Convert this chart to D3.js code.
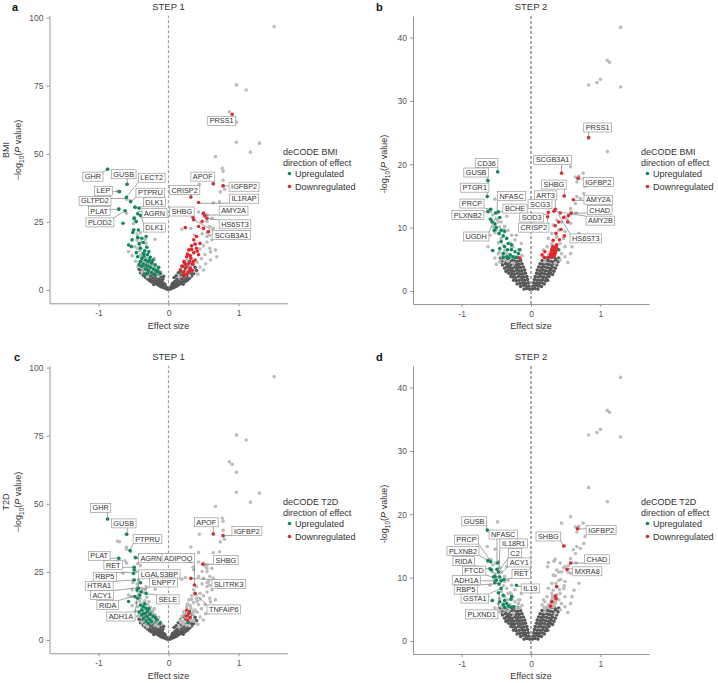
<!DOCTYPE html>
<html>
<head>
<meta charset="utf-8">
<script src="https://cdn.jsdelivr.net/npm/d3@7"></script>
<style>
  body { margin: 0; background: #fff; }
  text { font-family: "Liberation Sans", Arial, sans-serif; }
</style>
</head>
<body>
<svg id="chart" width="718" height="683"></svg>
<script>
// ---- data (effect size, -log10 P) ----

// non significant proteins, step 1 (panels a and c share them)
var step1Dark = [
  [-0.02,0.3],[-0.05,0.6],[-0.08,0.9],[-0.04,1.1],[-0.11,1.2],[-0.07,1.6],[-0.14,1.7],[-0.10,2.0],[-0.17,2.2],[-0.06,2.3],
  [-0.13,2.6],[-0.20,2.7],[-0.09,3.0],[-0.16,3.1],[-0.23,3.3],[-0.12,3.6],[-0.19,3.7],[-0.26,3.9],[-0.08,4.0],[-0.15,4.2],
  [-0.22,4.4],[-0.29,4.5],[-0.11,4.8],[-0.18,4.9],[-0.25,5.1],[-0.32,5.2],[-0.14,5.6],[-0.21,5.7],[-0.28,5.9],[-0.35,6.0],
  [-0.12,6.5],[-0.18,6.6],[-0.25,6.8],[-0.31,6.9],[-0.38,7.0],[-0.16,7.6],[-0.22,7.8],[-0.29,8.0],[-0.35,8.1],[-0.20,8.9],
  [-0.27,9.2],[-0.33,9.4],[-0.40,9.0],[-0.24,10.2],[-0.31,10.5],[-0.38,10.8],[-0.05,1.9],[-0.10,3.4],[-0.21,2.0],[-0.24,2.9],
  [-0.03,0.9],[-0.27,3.4],[-0.30,4.0],[-0.33,4.7],[-0.36,5.4],[-0.40,6.3],[-0.42,7.6],[-0.07,5.0],
  [0.02,0.3],[0.05,0.6],[0.08,0.9],[0.04,1.1],[0.11,1.3],[0.07,1.6],[0.14,1.8],[0.10,2.1],[0.17,2.3],[0.06,2.4],
  [0.13,2.7],[0.20,2.9],[0.09,3.1],[0.16,3.3],[0.23,3.5],[0.12,3.8],[0.19,4.0],[0.26,4.2],[0.15,4.6],[0.22,4.8],
  [0.29,5.0],[0.11,5.2],[0.18,5.5],[0.25,5.7],[0.32,5.9],[0.14,6.3],[0.21,6.5],[0.28,6.8],[0.35,7.0],[0.17,7.4],
  [0.24,7.7],[0.31,8.0],[0.38,8.3],[0.20,8.6],[0.27,9.0],[0.34,9.4],[0.23,10.0],[0.30,10.4],[0.05,1.9],[0.21,2.1],[0.24,3.0],
  [0.03,0.9],[0.27,3.6],[0.30,4.3],[0.33,5.1],[0.36,6.0],[0.40,7.1],[0.08,4.6]
];

// significant proteins without a deCODE direction, step 1
var step1Light = [
  [1.51,96.7],[0.97,75.3],[1.11,73.4],[0.87,65.4],[0.97,61.6],[0.97,54.2],[1.30,53.9],[1.17,50.6],[0.67,49.0],[0.77,44.7],
  [0.78,43.6],[0.78,40.3],[0.74,36.0],[0.80,37.0],[0.44,38.8],[0.64,32.0],[0.73,32.4],[0.43,28.6],[0.55,27.5],[0.62,26.3],
  [0.55,25.1],[0.59,23.3],[0.64,22.6],[0.55,21.0],[0.59,20.1],[0.48,20.6],[0.62,18.4],[0.55,17.6],[0.50,16.2],[0.67,14.7],
  [0.69,12.2],[0.60,11.0],[0.55,19.6],[0.59,15.3],[0.60,14.0],[0.19,22.3],[0.45,15.0],[0.52,13.0],[0.47,11.5],[0.41,10.2],
  [0.53,9.6],[0.45,8.4],[0.36,7.0],[0.50,7.3],[0.42,5.8],[0.30,5.2],[0.15,4.8],[0.20,6.2],
  [-0.19,18.6],[-0.60,33.3],[-0.60,28.2],[-0.45,20.5],[-0.41,14.3],[-0.52,12.6],[-0.47,10.5],[-0.44,8.6],[-0.38,6.6],
  [-0.30,4.8],[-0.15,5.0],[-0.10,5.8],[-0.20,11.5],[-0.33,18.5],[-0.73,36.3]
];

var aUp = [
  [-0.87,44.3],[-0.59,38.8],[-0.70,36.1],[-0.60,34.0],[-0.54,32.4],[-0.48,30.4],[-0.71,29.6],[-0.62,29.1],[-0.42,30.0],[-0.44,28.0],
  [-0.40,27.3],[-0.49,26.3],[-0.65,24.5],[-0.46,25.1],[-0.50,22.0],[-0.51,21.1],[-0.43,22.0],[-0.57,16.5],[-0.53,15.9],[-0.44,19.3],
  [-0.38,19.0],[-0.36,17.4],[-0.40,15.3],[-0.31,15.7],[-0.46,13.7],[-0.44,12.2],[-0.36,13.5],[-0.30,12.9],[-0.38,11.6],[-0.26,12.0],
  [-0.33,11.0],[-0.40,10.4],[-0.29,10.4],[-0.36,9.5],[-0.24,9.8],[-0.31,8.8],[-0.38,8.6],[-0.19,9.2],[-0.26,8.3],[-0.33,7.6],
  [-0.21,7.6],[-0.29,7.1],[-0.14,8.3],[-0.17,7.0],[-0.24,6.4],[-0.30,6.1],[-0.12,6.1],[-0.19,5.5],[-0.32,19.6],[-0.52,18.4],
  [-0.34,14.4],[-0.42,17.0],[-0.28,14.0],[-0.22,11.0],[-0.35,12.5],[-0.27,11.0],[-0.42,9.3],[-0.34,5.5],[-0.15,6.8],[0.17,6.7]
];
var aDown = [
  [0.91,64.5],[0.64,39.0],[0.78,38.2],[0.32,34.1],[0.43,32.1],[0.50,28.2],[0.52,27.2],[0.55,26.3],[0.35,26.7],[0.48,25.1],
  [0.43,23.3],[0.50,22.6],[0.57,21.4],[0.24,22.9],[0.40,19.6],[0.36,18.4],[0.45,17.1],[0.33,16.2],[0.40,15.3],[0.29,14.7],
  [0.36,13.7],[0.43,12.9],[0.26,12.2],[0.32,11.6],[0.38,11.0],[0.22,10.4],[0.29,9.8],[0.35,9.5],[0.19,8.8],[0.25,8.3],
  [0.31,8.0],[0.17,7.1],[0.22,6.7],[0.28,6.4],[0.34,7.2],[0.27,13.2],[0.31,12.6],[0.35,10.4],[0.24,9.4],[0.30,7.0],
  [0.41,14.2],[0.38,16.8],[0.33,14.9],[0.21,5.8],[0.26,5.5],[0.36,25.8]
];
var cUp = [
  [-0.87,44.4],[-0.60,38.8],[-0.55,32.8],[-0.71,30.0],[-0.47,30.2],[-0.49,26.7],[-0.49,25.7],[-0.50,24.4],[-0.49,22.0],[-0.40,21.0],
  [-0.43,19.0],[-0.45,18.3],[-0.39,17.7],[-0.32,17.1],[-0.57,14.1],[-0.48,15.9],[-0.44,15.3],[-0.40,12.8],[-0.36,12.2],[-0.32,11.6],
  [-0.38,11.0],[-0.30,10.4],[-0.35,9.8],[-0.26,9.5],[-0.38,9.2],[-0.31,8.6],[-0.22,8.8],[-0.36,7.9],[-0.27,7.6],[-0.19,8.3],
  [-0.32,7.0],[-0.24,6.7],[-0.17,7.3],[-0.12,6.1],[-0.29,6.1],[-0.41,16.4],[-0.34,13.3],[-0.28,11.5],[-0.42,10.3],[0.28,6.4]
];
var cDown = [
  [0.64,38.9],[0.78,38.3],[0.49,27.8],[0.37,20.2],[0.32,22.6],[0.38,17.1],[0.26,11.0],[0.29,9.8],[0.25,8.8],[0.31,8.3],[0.27,7.3]
];

// step 2 (panels b and d)
var step2Dark = [
  [-0.02,0.3],[-0.06,0.4],[-0.10,0.3],[-0.03,0.8],[-0.07,0.8],[-0.11,0.9],[-0.15,0.7],
  [-0.04,1.3],[-0.08,1.2],[-0.12,1.3],[-0.16,1.2],[-0.20,1.1],
  [-0.05,1.8],[-0.09,1.7],[-0.13,1.8],[-0.17,1.7],[-0.21,1.6],[-0.25,1.7],
  [-0.06,2.3],[-0.10,2.2],[-0.14,2.2],[-0.18,2.3],[-0.22,2.1],[-0.26,2.2],[-0.29,2.3],
  [-0.08,2.8],[-0.12,2.7],[-0.16,2.7],[-0.20,2.8],[-0.24,2.6],[-0.28,2.7],[-0.32,2.8],
  [-0.09,3.3],[-0.13,3.2],[-0.17,3.2],[-0.21,3.3],[-0.25,3.1],[-0.29,3.2],[-0.33,3.3],[-0.36,3.1],
  [-0.11,3.8],[-0.15,3.7],[-0.19,3.7],[-0.23,3.8],[-0.27,3.6],[-0.31,3.7],[-0.35,3.8],[-0.38,3.6],
  [-0.13,4.3],[-0.17,4.2],[-0.21,4.2],[-0.25,4.3],[-0.29,4.1],[-0.33,4.2],[-0.37,4.3],[-0.41,4.1],
  [-0.15,4.8],[-0.19,4.7],[-0.23,4.7],[-0.27,4.8],[-0.31,4.6],[-0.35,4.7],[-0.39,4.8],[-0.43,4.6],
  [-0.19,5.3],[-0.24,5.2],[-0.29,5.3],[-0.34,5.1],[-0.39,5.2],[-0.44,5.2],
  [0.02,0.3],[0.06,0.4],[0.10,0.3],[0.03,0.8],[0.07,0.9],[0.11,0.8],[0.15,0.7],
  [0.04,1.3],[0.08,1.2],[0.12,1.2],[0.16,1.3],[0.19,1.1],
  [0.05,1.8],[0.09,1.7],[0.13,1.7],[0.17,1.8],[0.21,1.6],[0.24,1.7],
  [0.06,2.3],[0.10,2.2],[0.14,2.3],[0.18,2.2],[0.22,2.1],[0.26,2.3],
  [0.08,2.8],[0.12,2.7],[0.16,2.8],[0.20,2.7],[0.24,2.6],[0.28,2.8],[0.31,2.6],
  [0.09,3.3],[0.13,3.2],[0.17,3.3],[0.21,3.2],[0.25,3.1],[0.29,3.3],[0.33,3.1],
  [0.11,3.8],[0.15,3.7],[0.19,3.8],[0.23,3.7],[0.27,3.6],[0.31,3.8],[0.35,3.6],
  [0.13,4.3],[0.17,4.2],[0.21,4.3],[0.25,4.2],[0.29,4.1],[0.33,4.3],[0.37,4.1],
  [0.16,4.8],[0.20,4.7],[0.24,4.8],[0.28,4.7],[0.32,4.6],[0.36,4.8],[0.39,4.6],
  [0.20,5.3],[0.25,5.2],[0.30,5.3],[0.35,5.1],[0.40,5.2]
];
var step2Light = [
  [1.29,41.6],[1.10,36.4],[1.13,36.1],[1.00,33.4],[0.95,32.9],[0.83,32.5],[1.29,32.2],[1.10,22.0],[0.57,19.6],[0.75,18.6],
  [0.64,18.0],[0.69,18.1],[0.66,17.2],[0.78,16.5],[0.76,15.4],[0.66,14.9],[0.71,14.6],[0.64,13.8],[0.65,12.3],[0.57,13.0],
  [0.49,11.7],[0.44,10.9],[0.37,11.2],[0.57,10.7],[0.32,10.4],[0.40,9.6],[0.49,9.4],[0.30,9.1],[0.37,8.5],[0.47,8.3],
  [0.25,8.3],[0.42,7.5],[0.30,7.5],[0.49,7.0],[0.37,6.5],[0.44,5.9],[0.23,7.0],[0.18,6.5],[0.25,5.7],[0.49,5.4],
  [0.42,4.9],[0.57,5.9],[0.59,7.0],[0.69,9.1],[0.62,8.0],[0.53,4.5],[0.35,4.4],[0.20,4.6],
  [-0.52,14.5],[-0.55,12.0],[-0.43,10.9],[-0.38,10.2],[-0.33,9.6],[-0.59,8.8],[-0.28,8.8],[-0.23,8.1],[-0.30,7.6],[-0.26,7.0],
  [-0.18,6.5],[-0.47,5.9],[-0.42,5.4],[-0.38,4.9],[-0.33,4.7],[-0.21,5.4],[-0.52,5.2],[-0.45,4.6],[-0.50,4.2],[-0.13,5.6],
  [-0.25,4.4],[-0.62,7.0],[-0.35,11.8],[-0.14,7.5]
];
var bUp = [
  [-0.48,18.8],[-0.62,17.4],[-0.63,14.9],[-0.58,12.9],[-0.62,12.5],[-0.51,12.3],[-0.47,12.5],[-0.58,11.3],[-0.56,10.9],[-0.52,10.6],
  [-0.50,10.0],[-0.53,9.6],[-0.43,9.6],[-0.38,9.4],[-0.46,9.1],[-0.40,8.7],[-0.35,8.3],[-0.43,7.8],[-0.33,7.5],[-0.28,7.3],
  [-0.38,7.0],[-0.45,6.7],[-0.34,6.5],[-0.28,6.5],[-0.23,6.2],[-0.40,5.9],[-0.30,5.7],[-0.35,5.4],[-0.26,5.4],[-0.55,6.4],
  [-0.18,5.9],[-0.21,5.3],[-0.32,5.2],[-0.40,5.3],[-0.16,6.5],[-0.45,11.6],[0.32,5.5],[0.40,6.5],[0.20,5.3]
];
var bDown = [
  [0.83,24.2],[0.44,18.6],[0.68,17.8],[0.48,15.0],[0.35,12.9],[0.61,14.4],[0.25,12.4],[0.24,11.7],[0.58,12.3],[0.54,11.9],
  [0.42,12.3],[0.47,11.6],[0.40,10.9],[0.53,10.9],[0.35,10.3],[0.43,9.7],[0.36,9.1],[0.48,8.7],[0.41,8.1],[0.32,8.0],
  [0.37,7.3],[0.31,7.0],[0.34,6.9],[0.37,6.8],[0.30,6.6],[0.33,6.5],[0.36,6.4],[0.29,6.2],[0.32,6.1],[0.35,6.0],
  [0.28,5.8],[0.31,5.7],[0.34,5.6],[0.28,5.5],[0.30,5.4],[0.25,5.3],[0.20,6.2],[0.16,5.7],[0.19,5.3],[-0.16,5.2],[0.33,12.6]
];
var dUp = [
  [-0.63,17.5],[-0.62,12.7],[-0.58,12.5],[-0.48,12.3],[-0.59,11.4],[-0.57,11.2],[-0.47,10.9],[-0.52,10.2],[-0.45,10.1],[-0.50,9.6],
  [-0.43,9.5],[-0.39,9.7],[-0.52,9.2],[-0.46,9.0],[-0.21,8.8],[-0.43,8.3],[-0.47,7.6],[-0.40,7.2],[-0.28,7.0],[-0.29,6.6],
  [-0.56,6.4],[-0.38,6.4],[-0.45,6.2],[-0.35,5.9],[-0.40,5.7],[-0.32,5.5],[-0.38,5.3],[-0.28,5.3],[-0.25,5.4],[-0.49,11.3],[-0.54,10.1]
];
var dDown = [
  [0.67,17.7],[0.47,15.0],[0.57,12.3],[0.52,11.3],[0.37,8.6],[0.35,7.1],[0.36,6.7],[0.30,6.2],[0.28,5.5]
];

// labelled proteins: [gene, effect, -log10 P]
var labelsA = [["GHR",-0.87,44.3],["GUSB",-0.59,38.8],["LECT2",-0.59,34.6],["LEP",-0.70,36.1],["GLTPD2",-0.61,33.6],
  ["PTPRU",-0.54,32.4],["DLK1",-0.48,30.4],["PLAT",-0.71,29.6],["AGRN",-0.44,28.8],["PLOD2",-0.62,29.1],["DLK1",-0.40,27.5],
  ["PRSS1",0.91,64.5],["APOF",0.64,39.0],["IGFBP2",0.78,38.2],["CRISP2",0.32,34.1],["IL1RAP",0.43,31.8],["AMY2A",0.50,27.5],
  ["SHBG",0.35,26.7],["HS6ST3",0.52,26.3],["SCGB3A1",0.36,25.8]];
var labelsB = [["PRSS1",0.83,24.2],["SCGB3A1",0.44,18.6],["CD36",-0.48,18.9],["GUSB",-0.62,17.4],["IGFBP2",0.67,17.7],
  ["SHBG",0.48,15.0],["PTGR1",-0.63,14.9],["NFASC",-0.49,12.3],["ART3",0.35,12.9],["AMY2A",0.61,14.3],["SCG3",0.26,12.5],
  ["PRCP",-0.58,12.9],["CHAD",0.57,12.3],["BCHE",-0.47,12.5],["PLXNB2",-0.62,12.5],["SOD3",0.24,12.1],["AMY2B",0.33,12.6],
  ["CRISP2",0.24,11.7],["UGDH",-0.50,11.8],["HS6ST3",0.40,12.0]];
var labelsC = [["GHR",-0.87,44.4],["GUSB",-0.59,38.9],["PTPRU",-0.55,32.8],["APOF",0.64,38.9],["IGFBP2",0.78,38.3],
  ["PLAT",-0.72,30.0],["AGRN",-0.48,30.1],["ADIPOQ",0.37,20.2],["SHBG",0.49,27.8],["RET",-0.49,26.7],["RBP5",-0.50,24.8],
  ["LGALS3BP",-0.43,18.9],["HTRA1",-0.49,22.0],["ENPP7",-0.46,17.5],["SLITRK3",0.32,22.6],["ACY1",-0.40,19.3],
  ["RIDA",-0.43,16.6],["SELE",-0.32,16.9],["TNFAIP6",0.38,17.1],["ADH1A",-0.44,15.9]];
var labelsD = [["GUSB",-0.63,17.5],["NFASC",-0.49,12.5],["PRCP",-0.59,12.8],["IL18R1",-0.46,11.3],["PLXNB2",-0.62,12.7],
  ["C2",-0.49,10.5],["RIDA",-0.59,11.3],["ACY1",-0.50,10.0],["FTCD",-0.54,10.1],["RET",-0.40,9.7],["ADH1A",-0.50,9.5],
  ["IL19",-0.21,8.6],["RBP5",-0.45,9.1],["GSTA1",-0.43,8.3],["PLXND1",-0.45,7.8],["SHBG",0.47,15.0],["IGFBP2",0.67,17.7],
  ["CHAD",0.56,12.3],["MXRA8",0.52,11.4]];

// where each label box sits (centre, in axis units), same order as the labels
var boxesA = [[-1.08,41.6],[-0.64,42.5],[-0.24,41.2],[-0.93,36.4],[-1.05,32.7],[-0.26,35.7],[-0.20,32.2],[-0.99,29.0],
  [-0.20,28.2],[-0.98,24.8],[-0.20,22.9],[0.76,62.1],[0.49,41.6],[1.08,37.9],[0.23,36.7],[1.08,33.5],[0.93,29.1],
  [0.19,28.8],[0.95,24.1],[0.90,20.2]];
var boxesB = [[0.96,25.8],[0.31,20.7],[-0.64,20.2],[-0.79,18.7],[0.97,17.2],[0.33,16.8],[-0.81,16.3],[-0.28,15.0],
  [0.21,15.1],[0.97,14.4],[0.13,13.7],[-0.85,13.8],[0.99,12.8],[-0.23,13.0],[-0.91,12.0],[0.01,11.6],[1.00,11.1],
  [0.04,10.0],[-0.79,8.6],[0.79,8.3]];
var boxesC = [[-0.97,48.5],[-0.64,42.8],[-0.30,37.0],[0.54,43.2],[1.12,40.0],[-0.99,30.9],[-0.25,30.1],[0.14,30.1],
  [0.82,29.3],[-0.79,27.5],[-0.91,23.2],[-0.13,24.1],[-0.99,19.9],[-0.07,21.1],[0.86,20.5],[-0.95,16.5],[-0.87,12.8],
  [-0.01,14.9],[0.79,11.2],[-0.68,8.6]];
var boxesD = [[-0.82,18.9],[-0.40,16.8],[-0.93,16.0],[-0.25,15.4],[-0.98,14.2],[-0.23,13.9],[-0.97,12.6],[-0.17,12.4],
  [-0.82,11.1],[-0.14,10.6],[-0.93,9.6],[-0.01,8.3],[-0.94,8.1],[-0.81,6.7],[-0.71,4.2],[0.25,16.5],[1.01,17.5],
  [0.95,12.9],[0.81,11.0]];

var step1Ticks = [0, 25, 50, 75, 100];
var step2Ticks = [0, 10, 20, 30, 40];
var effectTicks = [-1, 0, 1];
var legendItems = ["Upregulated", "Downregulated"];

// ---- drawing ----
var COL = { dark: "#585858", light: "#bcbcbc", up: "#0b8a5c", down: "#e6262c" };
var svg = d3.select("#chart");

var panels = [
  { letter: "a", title: "STEP 1", trait: "BMI", oy: 0, xRange: [49.5, 287.5], yDomain: [-4.9, 100.7], yRange: [303.3, 15.7],
    ticks: step1Ticks, dark: step1Dark, light: [step1Light, cUp, cDown], up: aUp, down: aDown,
    labels: labelsA, boxes: boxesA, zero: "#a0a0a0", zeroW: 1.2, minus: "\u2212", yTitleY: 150, legendX: 283, letterX: 12, ylabX: 21 },
  { letter: "b", title: "STEP 2", trait: "BMI", oy: 0, xRange: [413, 649], yDomain: [-2.05, 43.4], yRange: [304, 16],
    ticks: step2Ticks, dark: step2Dark, light: [step2Light, dUp, dDown], up: bUp, down: bDown,
    labels: labelsB, boxes: boxesB, zero: "#333", zeroW: 0.8, minus: "-", yTitleY: 164, legendX: 641, letterX: 376, ylabX: 387 },
  { letter: "c", title: "STEP 1", trait: "T2D", oy: 350, xRange: [49.5, 287.5], yDomain: [-4.9, 100.7], yRange: [303.3, 15.7],
    ticks: step1Ticks, dark: step1Dark, light: [step1Light, aUp, aDown], up: cUp, down: cDown,
    labels: labelsC, boxes: boxesC, zero: "#a0a0a0", zeroW: 1.2, minus: "\u2212", yTitleY: 152, legendX: 283, letterX: 14, ylabX: 21 },
  { letter: "d", title: "STEP 2", trait: "T2D", oy: 350, xRange: [413, 649], yDomain: [-2.05, 43.4], yRange: [304, 16],
    ticks: step2Ticks, dark: step2Dark, light: [step2Light, bUp, bDown], up: dUp, down: dDown,
    labels: labelsD, boxes: boxesD, zero: "#333", zeroW: 0.8, minus: "-", yTitleY: 164, legendX: 641, letterX: 376, ylabX: 387 }
];

panels.forEach(function (p) {
  var g = svg.append("g").attr("transform", "translate(0," + p.oy + ")");
  var x = d3.scaleLinear().domain([-1.7, 1.7]).range(p.xRange);
  var y = d3.scaleLinear().domain(p.yDomain).range(p.yRange);
  var x0 = p.xRange[0], yb = p.yRange[0];

  // axes
  var ya = g.append("g").attr("transform", "translate(" + x0 + ",0)")
    .call(d3.axisLeft(y).tickValues(p.ticks).tickSize(3).tickSizeOuter(0).tickPadding(3));
  var xa = g.append("g").attr("transform", "translate(0," + yb + ")")
    .call(d3.axisBottom(x).tickValues(effectTicks).tickSize(3).tickSizeOuter(0).tickPadding(4)
      .tickFormat(function (d) { return d < 0 ? "-" + Math.abs(d) : d; }));
  [ya, xa].forEach(function (a) {
    a.select(".domain").attr("stroke", "#8a8a8a").attr("stroke-width", 0.9);
    a.selectAll(".tick line").attr("stroke", "#8a8a8a").attr("stroke-width", 0.9);
    a.selectAll(".tick text").attr("fill", "#555").style("font-size", "8.5px")
      .style("font-family", "'Liberation Sans', Arial, sans-serif");
  });

  // zero line
  g.append("line")
    .attr("x1", x(0)).attr("x2", x(0)).attr("y1", yb).attr("y2", p.yRange[1])
    .attr("stroke", p.zero).attr("stroke-width", p.zeroW).attr("stroke-dasharray", "3,2");

  function dots(data, colour) {
    g.append("g").selectAll("circle").data(data).enter().append("circle")
      .attr("cx", function (d) { return x(d[0]); })
      .attr("cy", function (d) { return y(d[1]); })
      .attr("r", 1.8)
      .attr("fill", colour);
  }
  dots(p.dark, COL.dark);
  p.light.forEach(function (arr) { dots(arr, COL.light); });
  dots(p.up, COL.up);
  dots(p.down, COL.down);

  // labels with leader lines
  var lineG = g.append("g"), boxG = g.append("g");
  p.labels.forEach(function (lab, i) {
    var bx = x(p.boxes[i][0]), by = y(p.boxes[i][1]);
    var t = boxG.append("text").attr("x", bx).attr("y", by + 2.6)
      .attr("text-anchor", "middle").attr("fill", "#333").style("font-size", "7.3px").text(lab[0]);
    var w = t.node().getComputedTextLength() + 4, h = 9;
    boxG.insert("rect", "text").attr("x", bx - w / 2).attr("y", by - h / 2)
      .attr("width", w).attr("height", h).attr("fill", "#fff")
      .attr("stroke", "#999").attr("stroke-width", 0.7);
    var px = x(lab[1]), py = y(lab[2]);
    var ex = Math.max(bx - w / 2, Math.min(px, bx + w / 2));
    var ey = Math.max(by - h / 2, Math.min(py, by + h / 2));
    lineG.append("line").attr("x1", px).attr("y1", py).attr("x2", ex).attr("y2", ey)
      .attr("stroke", "#666").attr("stroke-width", 0.6);
  });

  // titles
  var mid = x(0);
  g.append("text").attr("x", mid).attr("y", 10).attr("text-anchor", "middle")
    .attr("fill", "#333").style("font-size", "9.5px").text(p.title);
  g.append("text").attr("x", p.letterX).attr("y", 10.5).attr("fill", "#111")
    .style("font-size", "11px").style("font-weight", "bold").text(p.letter);
  g.append("text").attr("x", mid).attr("y", 329).attr("text-anchor", "middle")
    .attr("fill", "#333").style("font-size", "9px").text("Effect size");

  var yl = g.append("text").attr("transform", "translate(" + p.ylabX + "," + p.yTitleY + ") rotate(-90)")
    .attr("text-anchor", "middle").attr("fill", "#333").style("font-size", "9px");
  yl.append("tspan").text(p.minus + "log");
  yl.append("tspan").attr("dy", 2.5).style("font-size", "6.5px").text("10");
  yl.append("tspan").attr("dy", -2.5).text("(");
  yl.append("tspan").style("font-style", "italic").text("P");
  yl.append("tspan").text(" value)");
  if (p.letter === "a" || p.letter === "c") {
    g.append("text").attr("transform", "translate(9," + p.yTitleY + ") rotate(-90)")
      .attr("text-anchor", "middle").attr("fill", "#333").style("font-size", "9px").text(p.trait);
  }

  // legend
  var lg = g.append("g").attr("transform", "translate(" + p.legendX + ",0)");
  lg.append("text").attr("x", 0).attr("y", 154.5).attr("fill", "#333").style("font-size", "9px").text("deCODE " + p.trait);
  lg.append("text").attr("x", 0).attr("y", 165.5).attr("fill", "#333").style("font-size", "9px").text("direction of effect");
  legendItems.forEach(function (name, i) {
    var cy = 173.5 + i * 13;
    lg.append("circle").attr("cx", 6.5).attr("cy", cy).attr("r", 1.8).attr("fill", i === 0 ? COL.up : COL.down);
    lg.append("text").attr("x", 12).attr("y", cy + 3.2).attr("fill", "#333").style("font-size", "9px").text(name);
  });
});
</script>
</body>
</html>
